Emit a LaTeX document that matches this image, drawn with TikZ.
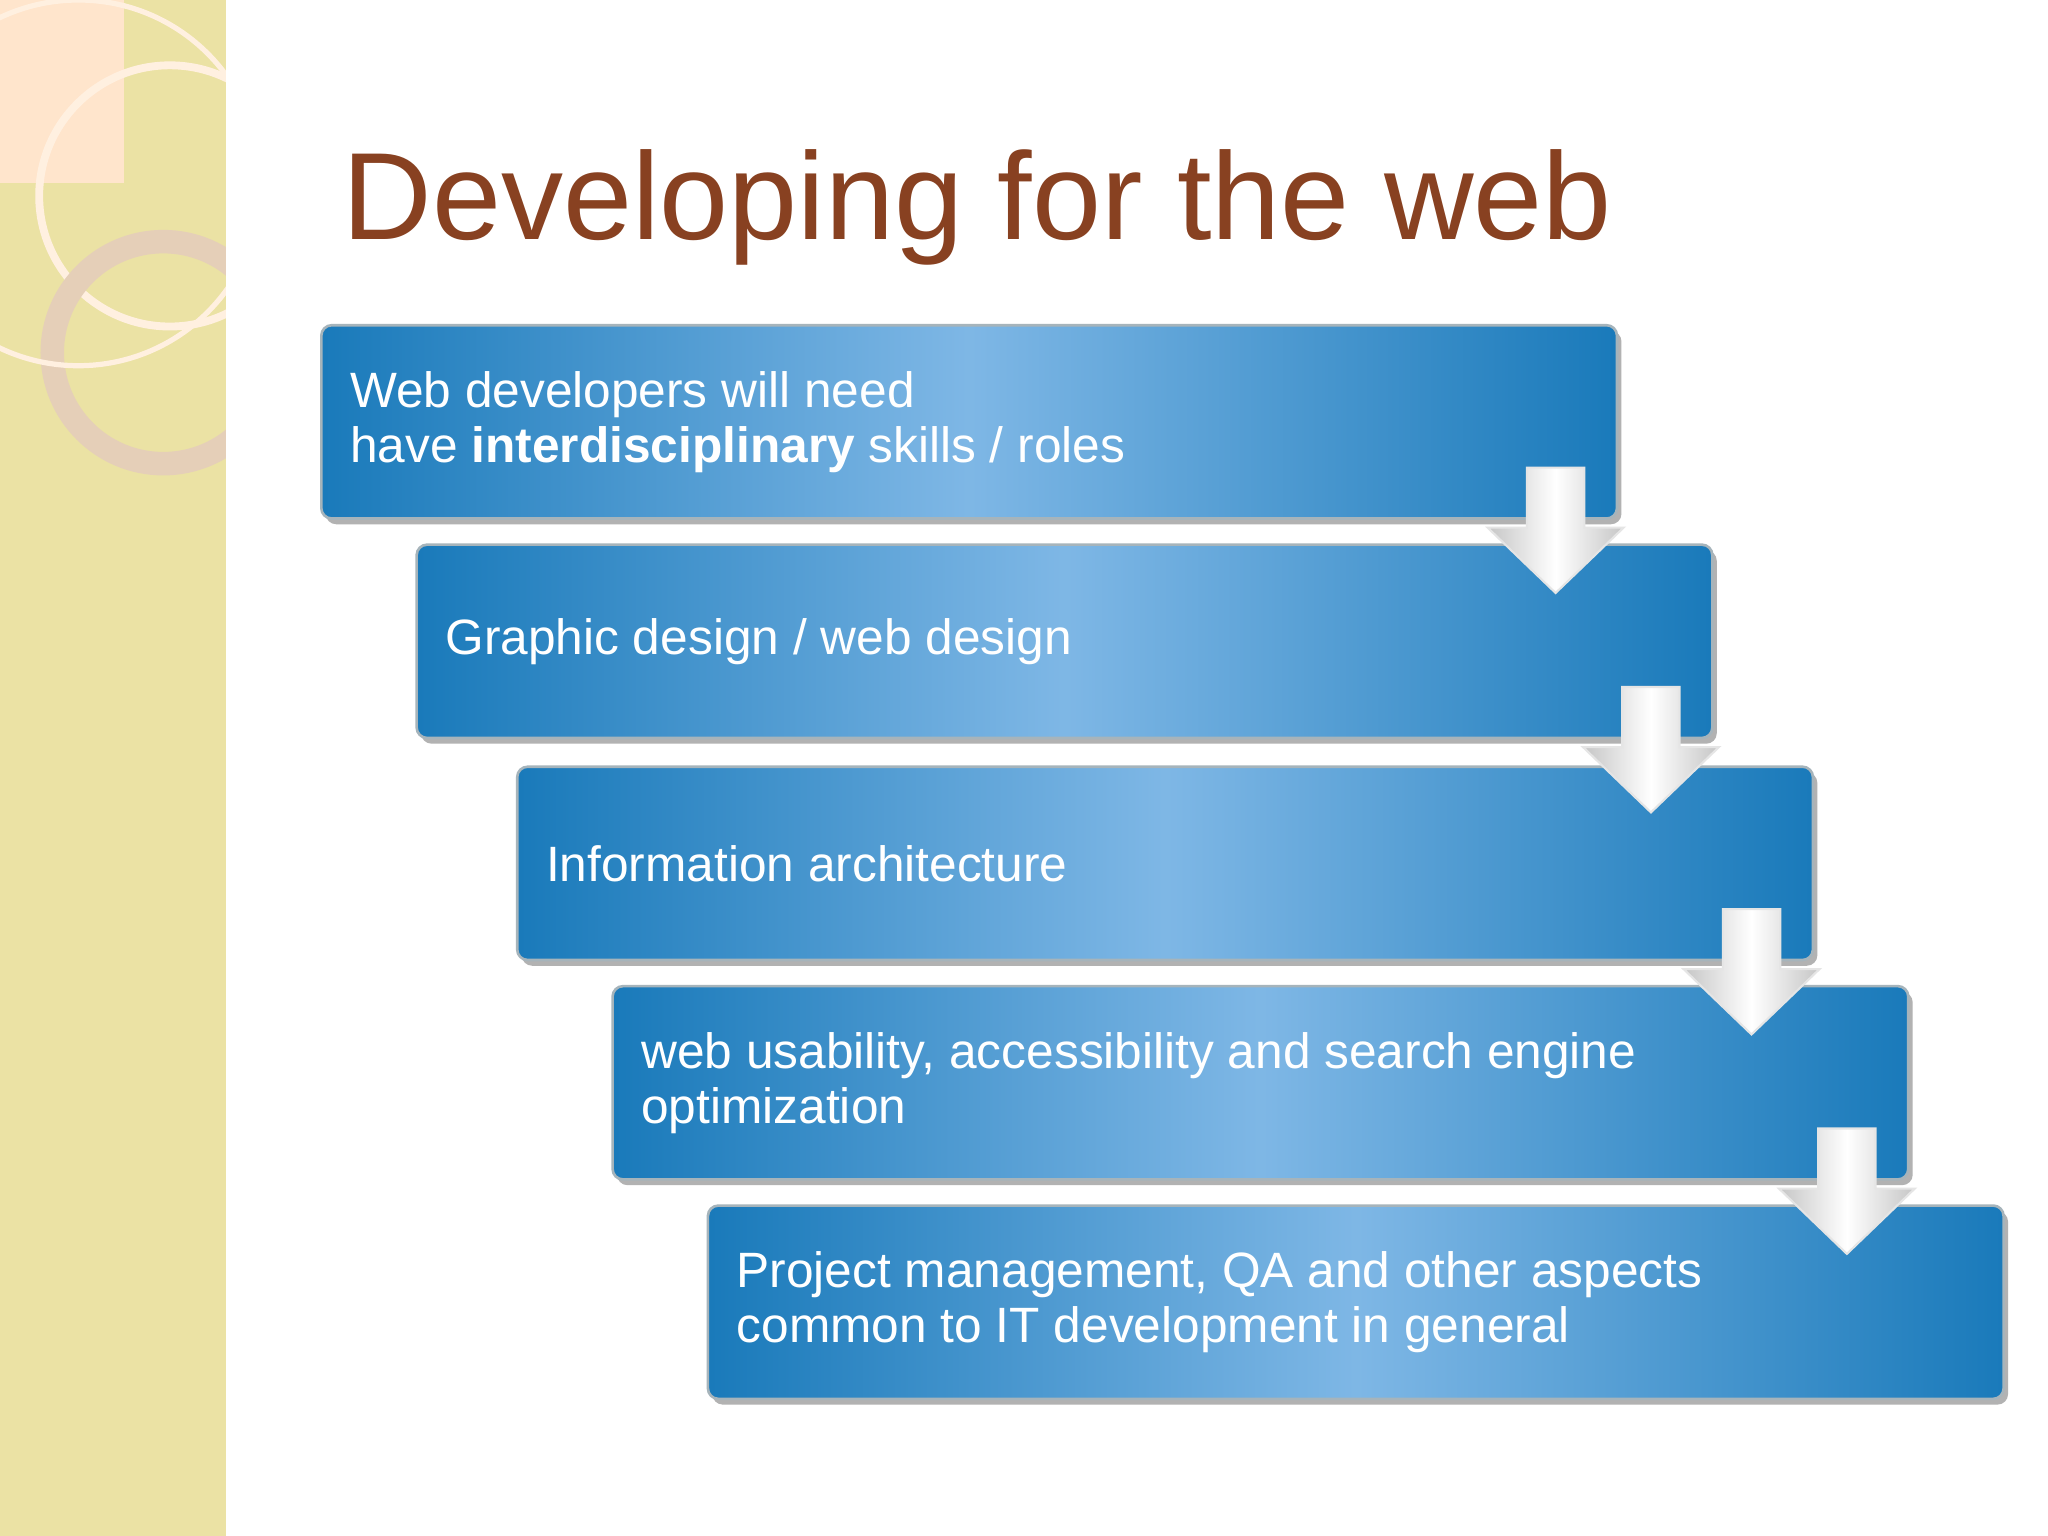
\documentclass[tikz,border=0pt]{standalone}
\usepackage{fontspec}
\setmainfont{Liberation Sans}
\begin{document}
\begin{tikzpicture}[x=0.5pt,y=-0.5pt,
  stepbox/.style={minimum width=992*0.5pt, minimum height=148*0.5pt, rounded corners=4pt, inner sep=0pt,
     draw=white!70!cyan!40!gray, line width=1pt,
     left color=cyan!60!blue!70!black!90, right color=cyan!60!blue!70!black!90, middle color=cyan!55!blue!45!white!90!black},
  shadowbox/.style={minimum width=992*0.5pt, minimum height=148*0.5pt, rounded corners=4pt, fill=black!30, inner sep=0pt},
  boxtext/.style={anchor=west, align=left, text=white, font=\fontsize{19}{21}\selectfont},
  downarrow/.style={left color=gray!45, right color=gray!45, middle color=white, draw=white!80!gray, line width=0.8pt}]
\useasboundingbox (0,0) rectangle (1568,1176);
\fill[white] (0,0) rectangle (1568,1176);
% left band
\fill[orange!25!yellow!30!white!92!black] (0,0) rectangle (173,1176);
\fill[white!80!orange] (0,0) rectangle (95,140);
\begin{scope}
\clip (0,0) rectangle (173,1176);
\draw[white!88!orange, line width=3pt] (130,150) circle (100);
\draw[white!80!orange!90!black, line width=9pt] (125,270) circle (85);
\draw[white!88!orange, line width=2pt] (60,140) circle (140);
\end{scope}
% title
\node[anchor=base west, inner sep=0pt, text=brown!60!black!85!red, font=\fontsize{47.5}{50}\selectfont] (title) at (262,183) {Developing for the web};
% boxes
\foreach \i/\x/\y in {1/245/248, 2/318/416, 3/395/586, 4/468/754, 5/541/922}{
  \node[shadowbox, anchor=north west] at (\x+4,\y+5) {};
  \node[stepbox, anchor=north west] (b\i) at (\x,\y) {};
}
\node[boxtext] (t1) at ([xshift=8pt]b1.west) {Web developers will need\\have \textbf{interdisciplinary} skills / roles};
\node[boxtext] (t2) at ([xshift=8pt]b2.west) {Graphic design / web design};
\node[boxtext] (t3) at ([xshift=8pt]b3.west) {Information architecture};
\node[boxtext] (t4) at ([xshift=8pt]b4.west) {web usability, accessibility and search engine\\optimization};
\node[boxtext] (t5) at ([xshift=8pt]b5.west) {Project management, QA and other aspects\\common to IT development in general};
% arrows
\foreach \a/\b in {1/2,2/3,3/4,4/5}{
  \coordinate (c\a) at ([xshift=-24pt,yshift=20pt]b\a.south east);
  \path[downarrow] ([xshift=-11pt]c\a) -- ([xshift=11pt]c\a) -- ([xshift=11pt,yshift=-23pt]c\a)
     -- ([xshift=26pt,yshift=-23pt]c\a) -- ([yshift=-48pt]c\a) -- ([xshift=-26pt,yshift=-23pt]c\a)
     -- ([xshift=-11pt,yshift=-23pt]c\a) -- cycle;
}
\end{tikzpicture}
\end{document}
